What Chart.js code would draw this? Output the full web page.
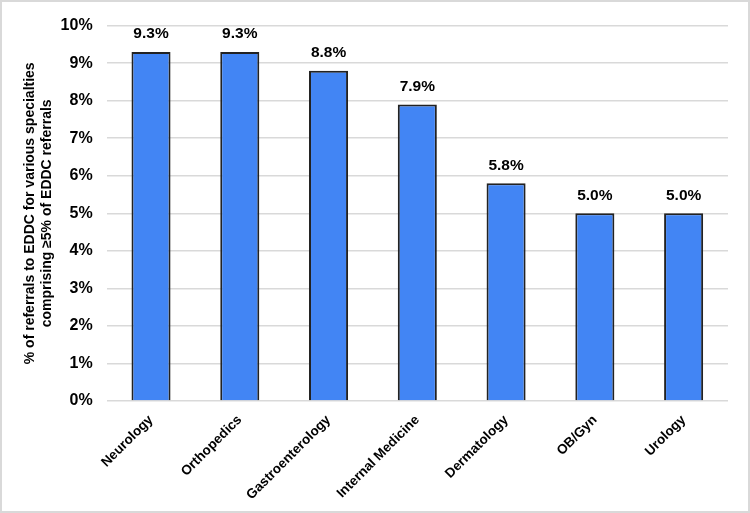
<!DOCTYPE html>
<html>
<head>
<meta charset="utf-8">
<script src="https://cdn.jsdelivr.net/npm/chart.js@4"></script>
<style>
  html, body { margin: 0; padding: 0; background: #fff; }
  #wrap { width: 750px; height: 513px; box-sizing: border-box; border: 2px solid #d9d9d9; }
  #wrap canvas { display: block; }
</style>
</head>
<body>
<div id="wrap"><canvas id="barChart" width="746" height="509"></canvas></div>
<script>
// chart data
const categories = ['Neurology', 'Orthopedics', 'Gastroenterology', 'Internal Medicine', 'Dermatology', 'OB/Gyn', 'Urology'];
const referralPct = [9.3, 9.3, 8.8, 7.9, 5.8, 5.0, 5.0];
const yTicks = [0, 1, 2, 3, 4, 5, 6, 7, 8, 9, 10];

const fontFamily = '"Liberation Sans", Arial, sans-serif';

// draws the value above each bar
const valueLabels = {
    id: 'valueLabels',
    afterDatasetsDraw(chart) {
        const ctx = chart.ctx;
        const meta = chart.getDatasetMeta(0);
        ctx.save();
        ctx.font = 'bold 15.5px ' + fontFamily;
        ctx.fillStyle = '#000';
        ctx.textAlign = 'center';
        ctx.textBaseline = 'bottom';
        meta.data.forEach(function (bar, i) {
            ctx.fillText(referralPct[i].toFixed(1) + '%', bar.x, bar.y - 10);
        });
        ctx.restore();
    }
};

new Chart(document.getElementById('barChart'), {
    type: 'bar',
    data: {
        labels: categories,
        datasets: [{
            data: referralPct,
            backgroundColor: '#4285f4',
            borderColor: '#222',
            borderWidth: 2,
            barPercentage: 0.44,
            categoryPercentage: 1
        }]
    },
    options: {
        responsive: false,
        animation: false,
        layout: { padding: { left: 20, right: 20, top: 14, bottom: 5 } },
        plugins: {
            legend: { display: false },
            tooltip: { enabled: false }
        },
        scales: {
            x: {
                grid: { display: false },
                border: { display: false },
                ticks: {
                    color: '#000',
                    font: { family: fontFamily, size: 13.5, weight: 'bold' },
                    minRotation: 45,
                    maxRotation: 45,
                    padding: 3
                }
            },
            y: {
                min: 0,
                max: 10,
                afterBuildTicks(axis) {
                    axis.ticks = yTicks.map(v => ({ value: v }));
                },
                grid: { color: '#d9d9d9', lineWidth: 1.5, drawTicks: false },
                border: { display: false },
                ticks: {
                    color: '#000',
                    padding: 14,
                    font: { family: fontFamily, size: 16, weight: 'bold' },
                    callback: v => v + '%'
                },
                title: {
                    display: true,
                    text: ['% of referrals to EDDC for various specialties', 'comprising \u22655% of EDDC referrals'],
                    color: '#000',
                    font: { family: fontFamily, size: 14, weight: 'bold' },
                    padding: { top: 0, bottom: -9 }
                }
            }
        }
    },
    plugins: [valueLabels]
});
</script>
</body>
</html>
